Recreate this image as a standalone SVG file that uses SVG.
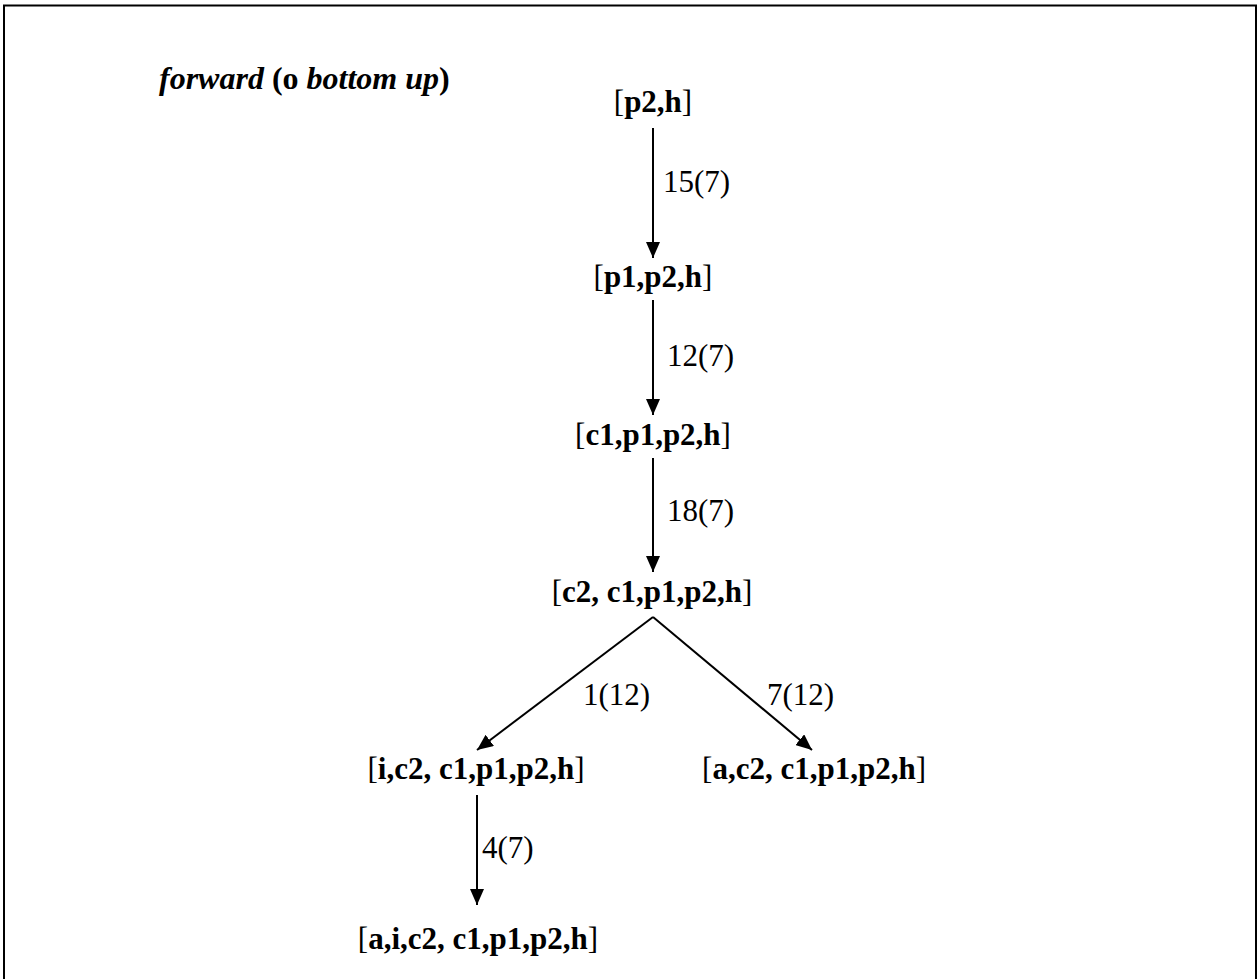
<svg xmlns="http://www.w3.org/2000/svg" width="1258" height="979" viewBox="0 0 1258 979">
  <style>
    text { font-family: "Liberation Serif", Tinos, "Times New Roman", Times, serif; font-size: 31px; fill: #000; }
    .title { font-size: 32px; }
    .node { text-anchor: middle; }
    .b { font-weight: bold; }
    .bi { font-weight: bold; font-style: italic; }
    .edge { stroke: #000; stroke-width: 2; fill: none; marker-end: url(#arrow); }
    .frame { fill: #fff; stroke: #000; stroke-width: 2; }
  </style>
  <defs>
    <marker id="arrow" markerUnits="userSpaceOnUse" markerWidth="16" markerHeight="14" refX="16" refY="7" orient="auto">
      <path d="M0,0 L16,7 L0,14 z" fill="#000"/>
    </marker>
  </defs>

  <!-- page frame -->
  <rect class="frame" x="4" y="5.5" width="1252" height="1000"/>

  <text class="title" x="159" y="89"><tspan class="bi">forward</tspan><tspan class="b"> (o </tspan><tspan class="bi">bottom up</tspan><tspan class="b">)</tspan></text>

  <g id="connectors">
    <line class="edge" x1="653" y1="128" x2="653" y2="258"/>
    <line class="edge" x1="653" y1="300" x2="653" y2="415"/>
    <line class="edge" x1="653" y1="458" x2="653" y2="572"/>
    <line class="edge" x1="653" y1="617" x2="477" y2="750"/>
    <line class="edge" x1="653" y1="617" x2="812" y2="750"/>
    <line class="edge" x1="477" y1="795" x2="477" y2="905"/>
    <text x="663" y="192">15(7)</text>
    <text x="667" y="366">12(7)</text>
    <text x="667" y="521">18(7)</text>
    <text x="583" y="705">1(12)</text>
    <text x="767" y="705">7(12)</text>
    <text x="482" y="858">4(7)</text>
  </g>

  <g id="n1"><text class="node" x="653" y="112">[<tspan class="b">p2,h</tspan>]</text></g>
  <g id="n2"><text class="node" x="653" y="287">[<tspan class="b">p1,p2,h</tspan>]</text></g>
  <g id="n3"><text class="node" x="653" y="445">[<tspan class="b">c1,p1,p2,h</tspan>]</text></g>
  <g id="n4"><text class="node" x="652" y="602">[<tspan class="b">c2, c1,p1,p2,h</tspan>]</text></g>
  <g id="n5"><text class="node" x="476" y="779">[<tspan class="b">i,c2, c1,p1,p2,h</tspan>]</text></g>
  <g id="n6"><text class="node" x="814" y="779">[<tspan class="b">a,c2, c1,p1,p2,h</tspan>]</text></g>
  <g id="n7"><text class="node" x="478" y="949">[<tspan class="b">a,i,c2, c1,p1,p2,h</tspan>]</text></g>
</svg>
